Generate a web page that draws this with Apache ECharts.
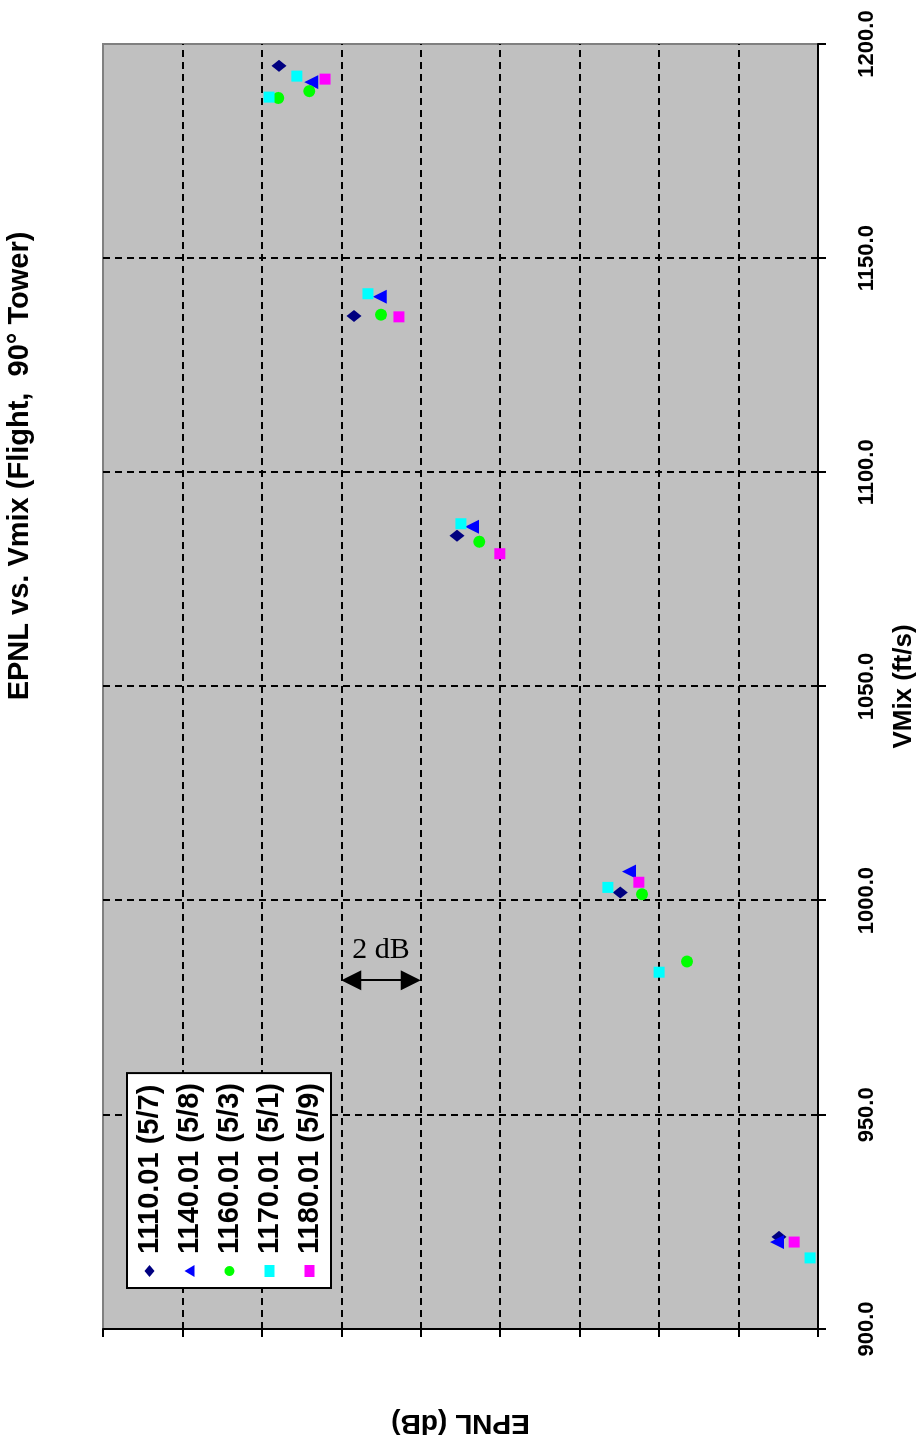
<!DOCTYPE html>
<html><head><meta charset="utf-8">
<script src="https://cdn.jsdelivr.net/npm/echarts@6/dist/echarts.min.js"></script>
<style>
html,body{margin:0;padding:0;background:#fff;overflow:hidden;width:923px;height:1445px;}
#c{position:absolute;left:0;top:0;width:1445px;height:923px;transform-origin:0 0;transform:translateY(1445px) rotate(-90deg);}
</style></head><body><div id="c"></div>
<script>
// ---- data (VMix ft/s, EPNL dB) ----
const seriesNames = ['1110.01 (5/7)', '1140.01 (5/8)', '1160.01 (5/3)', '1170.01 (5/1)', '1180.01 (5/9)'];
const vmix1110 = [1194.9, 1136.5, 1085.2, 1001.9, 921.5];
const epnl1110 = [103.57, 101.68, 99.09, 94.98, 90.98];
const vmix1140 = [1191.1, 1141.0, 1087.3, 1006.8, 920.3];
const epnl1140 = [102.76, 101.03, 98.71, 94.76, 91.03];
const vmix1160 = [1187.4, 1189.0, 1136.8, 1083.8, 1001.5, 985.8];
const epnl1160 = [103.59, 102.81, 101.00, 98.53, 94.43, 93.30];
const vmix1170 = [1187.6, 1192.5, 1141.7, 1088.0, 1003.1, 983.3, 916.6];
const epnl1170 = [103.82, 103.12, 101.33, 98.99, 95.29, 94.00, 90.20];
const vmix1180 = [1191.8, 1136.3, 1081.0, 1004.3, 920.3];
const epnl1180 = [102.41, 100.55, 98.01, 94.51, 90.60];
const vmixTicks = [900, 950, 1000, 1050, 1100, 1150, 1200];
const vmixTickLabels = ['900.0', '950.0', '1000.0', '1050.0', '1100.0', '1150.0', '1200.0'];
const arrowVmix = 981.4;
const arrowEpnl = [100, 102];
const arrowText = '2 dB';

const vmixAll = [vmix1110, vmix1140, vmix1160, vmix1170, vmix1180];
const epnlAll = [epnl1110, epnl1140, epnl1160, epnl1170, epnl1180];
const colors = ['#000080', '#0000FF', '#00FF00', '#00FFFF', '#FF00FF'];
const symbols = ['diamond', 'triangle', 'circle', 'rect', 'rect'];
const sizes = [[12, 15], 14, 12, 11, 11];
const FONT = 'Liberation Sans, Arial, sans-serif';

const chart = echarts.init(document.getElementById('c'), null, {width: 1445, height: 923, renderer: 'canvas'});

const series = seriesNames.map((n, i) => ({
  name: n, type: 'scatter', symbol: symbols[i], symbolSize: sizes[i],
  itemStyle: {color: colors[i], opacity: 1},
  data: vmixAll[i].map((v, k) => [v, epnlAll[i][k]]),
  z: 5
}));
series.push({
  name: 'arrow', type: 'scatter', data: [], silent: true,
  markLine: {
    silent: true, symbol: ['triangle', 'triangle'], symbolSize: [20, 20],
    lineStyle: {color: '#000', width: 2, type: 'solid'},
    label: {show: false},
    data: [[{coord: [arrowVmix, arrowEpnl[0] + 0.25]}, {coord: [arrowVmix, arrowEpnl[1] - 0.25]}]]
  }
});

chart.setOption({
  animation: false,
  backgroundColor: '#fff',
  title: {
    text: 'EPNL vs. Vmix (Flight,  90\u00B0 Tower)', left: 979, top: 5, textAlign: 'center', padding: 0,
    textStyle: {fontFamily: FONT, fontSize: 29, fontWeight: 'bold', color: '#000'}
  },
  legend: {
    data: seriesNames, orient: 'vertical', left: 157, top: 127,
    padding: [8, 10, 7, 11], itemGap: 11, itemWidth: 12, itemHeight: 10,
    backgroundColor: '#fff', borderColor: '#000', borderWidth: 2,
    textStyle: {fontFamily: FONT, fontSize: 29, fontWeight: 'bold', color: '#000', padding: [0, 0, 0, 6]}
  },
  grid: {
    left: 115, right: 44, top: 103, bottom: 105, show: true,
    backgroundColor: '#C0C0C0', borderColor: '#808080', borderWidth: 2
  },
  xAxis: {
    type: 'value', min: 900, max: 1200, interval: 50, position: 'bottom',
    axisLine: {show: true, onZero: false, lineStyle: {color: '#000', width: 2}},
    axisTick: {show: true, length: 8, lineStyle: {color: '#000', width: 2}},
    axisLabel: {
      margin: 38, fontFamily: FONT, fontSize: 22, fontWeight: 'bold', color: '#000',
      formatter: v => vmixTickLabels[vmixTicks.indexOf(v)]
    },
    splitLine: {show: true, showMaxLine: false, showMinLine: false, lineStyle: {color: '#000', width: 2, type: [7, 5]}},
    name: 'VMix (ft/s)', nameLocation: 'middle', nameGap: 73,
    nameTextStyle: {fontFamily: FONT, fontSize: 26, fontWeight: 'bold', color: '#000'}
  },
  yAxis: {
    type: 'value', min: 90, max: 108, interval: 2, position: 'left',
    axisLine: {show: true, onZero: false, lineStyle: {color: '#000', width: 2}},
    axisTick: {show: true, length: 8, lineStyle: {color: '#000', width: 2}},
    axisLabel: {show: false},
    splitLine: {show: true, showMaxLine: false, showMinLine: false, lineStyle: {color: '#000', width: 2, type: [7, 5]}},
    name: 'EPNL (dB)', nameLocation: 'middle', nameRotate: 90, nameGap: 80,
    nameTextStyle: {fontFamily: FONT, fontSize: 28, fontWeight: 'bold', color: '#000'}
  },
  series: series
});

const p = chart.convertToPixel({gridIndex: 0}, [arrowVmix, (arrowEpnl[0] + arrowEpnl[1]) / 2]);
chart.setOption({
  graphic: [{
    type: 'text', x: p[0] + 30, y: p[1], rotation: -Math.PI / 2, z: 100,
    style: {text: arrowText, fill: '#000', font: '30px "Liberation Serif", "Times New Roman", serif', align: 'center', verticalAlign: 'middle'}
  }]
});
</script></body></html>
